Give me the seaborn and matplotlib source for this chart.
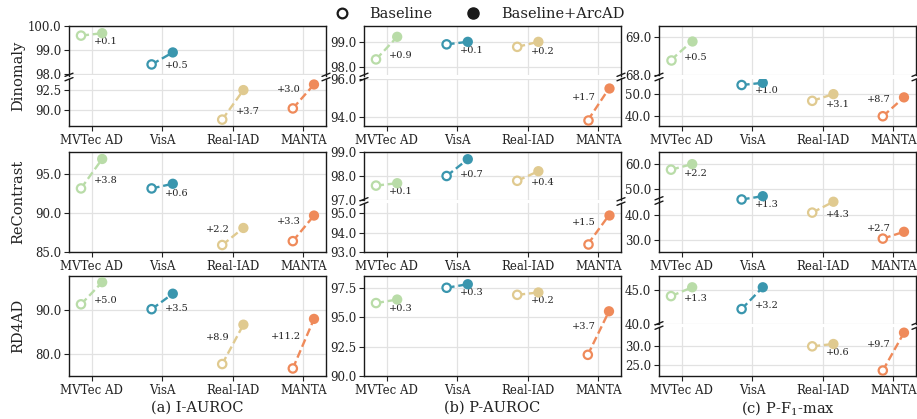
import matplotlib
matplotlib.use("Agg")
import matplotlib.pyplot as plt
import pandas as pd
import seaborn as sns
from matplotlib.lines import Line2D
from matplotlib.ticker import FormatStrFormatter

# ==================== DATA ====================
DATASETS = ["MVTec AD", "VisA", "Real-IAD", "MANTA"]
COLORS = ["#b9dca8", "#3a96ae", "#e0ca90", "#ef8a5a"]
METHODS = ["Dinomaly", "ReContrast", "RD4AD"]
METRICS = ["(a) I-AUROC", "(b) P-AUROC", "(c) P-F$_1$-max"]

dinomaly_iauroc_base = [99.6, 98.4, 88.8, 90.2]
dinomaly_iauroc_arcad = [99.7, 98.9, 92.5, 93.2]
dinomaly_pauroc_base = [98.3, 98.9, 98.8, 93.8]
dinomaly_pauroc_arcad = [99.2, 99.0, 99.0, 95.5]
dinomaly_f1_base = [68.4, 54.1, 46.8, 39.7]
dinomaly_f1_arcad = [68.9, 55.1, 49.9, 48.4]

recontrast_iauroc_base = [93.2, 93.2, 85.9, 86.4]
recontrast_iauroc_arcad = [97.0, 93.8, 88.1, 89.7]
recontrast_pauroc_base = [97.6, 98.0, 97.8, 93.4]
recontrast_pauroc_arcad = [97.7, 98.7, 98.2, 94.9]
recontrast_f1_base = [57.8, 46.0, 40.8, 30.5]
recontrast_f1_arcad = [60.0, 47.3, 45.1, 33.2]

rd4ad_iauroc_base = [91.3, 90.2, 77.8, 76.8]
rd4ad_iauroc_arcad = [96.3, 93.7, 86.7, 88.0]
rd4ad_pauroc_base = [96.2, 97.5, 96.9, 91.8]
rd4ad_pauroc_arcad = [96.5, 97.8, 97.1, 95.5]
rd4ad_f1_base = [44.1, 42.2, 29.8, 23.6]
rd4ad_f1_arcad = [45.4, 45.4, 30.4, 33.3]

# ==================== PANEL SETUP ====================
# segments: list of (ylim, yticks); two segments = broken axis (upper, lower)
# side: where the gain label goes ("r" right/below, "l" left/above)
PANELS = [
    [dict(base=dinomaly_iauroc_base, arcad=dinomaly_iauroc_arcad, side="rrrl",
          segs=[((97.94, 100.0), [98, 99, 100]), ((88.0, 93.95), [90, 92.5])], split=(49.5, 3)),
     dict(base=dinomaly_pauroc_base, arcad=dinomaly_pauroc_arcad, side="rrrl",
          segs=[((97.66, 99.63), [98, 99]), ((93.5, 96.03), [94, 96])], split=(49.5, 3)),
     dict(base=dinomaly_f1_base, arcad=dinomaly_f1_arcad, side="rrrl",
          segs=[((67.99, 69.30), [68, 69]), ((35.2, 57.1), [40, 50])], split=(49.5, 3))],
    [dict(base=recontrast_iauroc_base, arcad=recontrast_iauroc_arcad, side="rrll",
          segs=[((85.0, 97.9), [85, 90, 95])]),
     dict(base=recontrast_pauroc_base, arcad=recontrast_pauroc_arcad, side="rrrl",
          segs=[((97.0, 99.0), [97, 98, 99]), ((93.0, 95.53), [93, 94, 95])], split=(48, 3)),
     dict(base=recontrast_f1_base, arcad=recontrast_f1_arcad, side="rrrl",
          segs=[((25.2, 64.8), [30, 40, 50, 60])], mark=0.515)],
    [dict(base=rd4ad_iauroc_base, arcad=rd4ad_iauroc_arcad, side="rrll",
          segs=[((75.1, 97.7), [80, 90])]),
     dict(base=rd4ad_pauroc_base, arcad=rd4ad_pauroc_arcad, side="rrrl",
          segs=[((90.0, 98.5), [90, 92.5, 95, 97.5])]),
     dict(base=rd4ad_f1_base, arcad=rd4ad_f1_arcad, side="rrrl",
          segs=[((40.0, 47.06), [40, 45]), ((22.2, 34.75), [25, 30])], split=(48, 3))],
]

W, H = 917, 419
COL_LEFT = [69, 364, 659]
COL_W = 257
ROW_TOP = [26, 152, 276]
ROW_H = 100
OFF = 0.15

sns.set_theme(style="ticks")
plt.rcParams["font.family"] = ["DejaVu Serif"]
plt.rcParams["mathtext.fontset"] = "dejavuserif"
PAL = dict(zip(DATASETS, COLORS))


def px_axes(fig, left, top, width, height):
    return fig.add_axes([left / W, 1 - (top + height) / H, width / W, height / H])


def break_mark(fig, x, y):
    for dy in (-2.2, 2.2):
        fig.add_artist(Line2D([(x - 4) / W, (x + 4) / W],
                              [1 - (y + dy + 1.6) / H, 1 - (y + dy - 1.6) / H],
                              color="k", lw=1.0, transform=fig.transFigure))


def style_axes(ax, ylim, yticks):
    ax.set_xlim(-0.32, 3.32)
    ax.set_ylim(*ylim)
    ax.set_yticks(yticks)
    ax.yaxis.set_major_formatter(FormatStrFormatter("%.1f"))
    ax.set_xticks(range(len(DATASETS)))
    ax.set_xticklabels(DATASETS)
    ax.grid(True, color="#e2e2e2", lw=0.9)
    ax.set_axisbelow(True)
    ax.tick_params(labelsize=8.5, length=3.5, width=0.8, pad=2, colors="#222222")
    for s in ax.spines.values():
        s.set_linewidth(1.0)
        s.set_color("k")


def draw_panel(ax, cfg, idx):
    # draw only the dataset pairs listed in idx on this axes
    rows = []
    for i in idx:
        rows.append({"dataset": DATASETS[i], "x": i - OFF, "value": cfg["base"][i]})
        rows.append({"dataset": DATASETS[i], "x": i + OFF, "value": cfg["arcad"][i]})
    if rows:
        df = pd.DataFrame(rows)
        sns.lineplot(data=df, x="x", y="value", hue="dataset", palette=PAL, ax=ax,
                     legend=False, lw=1.7, linestyle=(0, (3.4, 1.6)), zorder=2)
        arc = df.iloc[1::2]
        sns.scatterplot(data=arc, x="x", y="value", hue="dataset", palette=PAL, ax=ax,
                        legend=False, s=55, linewidth=0, zorder=4)
        base = df.iloc[0::2]
        ax.scatter(base["x"], base["value"], s=36, facecolors="white",
                   edgecolors=[PAL[d] for d in base["dataset"]], linewidths=1.6, zorder=4)
    for i in idx:
        b, a = cfg["base"][i], cfg["arcad"][i]
        txt = f"+{a - b:.1f}"
        mid = (a + b) / 2
        if cfg["side"][i] == "r":
            ax.annotate(txt, xy=(i, mid), xytext=(2, -5), textcoords="offset points",
                        ha="left", va="center", fontsize=7, color="#222222")
        else:
            ax.annotate(txt, xy=(i, mid), xytext=(-2, 5), textcoords="offset points",
                        ha="right", va="center", fontsize=7, color="#222222")
    ax.set_xlabel("")
    ax.set_ylabel("")


fig = plt.figure(figsize=(W / 100, H / 100), dpi=100)

for r, row in enumerate(PANELS):
    for c, cfg in enumerate(row):
        left, top = COL_LEFT[c], ROW_TOP[r]
        segs = cfg["segs"]
        if len(segs) == 1:
            ax = px_axes(fig, left, top, COL_W, ROW_H)
            style_axes(ax, *segs[0])
            draw_panel(ax, cfg, range(len(DATASETS)))
            ax.set_xlim(-0.32, 3.32)
            ax.set_ylim(*segs[0][0])
            if "mark" in cfg:
                break_mark(fig, left, top + ROW_H * (1 - cfg["mark"]))
        else:
            up_h, gap = cfg["split"]
            ax_up = px_axes(fig, left, top, COL_W, up_h)
            ax_lo = px_axes(fig, left, top + up_h + gap, COL_W, ROW_H - up_h - gap)
            style_axes(ax_up, *segs[0])
            style_axes(ax_lo, *segs[1])
            ax_up.spines["bottom"].set_visible(False)
            ax_up.tick_params(axis="x", bottom=False, labelbottom=False)
            ax_lo.spines["top"].set_visible(False)
            lo_min, lo_max = segs[1][0]
            in_lo = [i for i in range(len(DATASETS)) if lo_min <= cfg["arcad"][i] <= lo_max]
            in_up = [i for i in range(len(DATASETS)) if i not in in_lo]
            draw_panel(ax_up, cfg, in_up)
            draw_panel(ax_lo, cfg, in_lo)
            for a_, s_ in ((ax_up, segs[0]), (ax_lo, segs[1])):
                a_.set_xlim(-0.32, 3.32)
                a_.set_ylim(*s_[0])
            yb = top + up_h + gap / 2
            break_mark(fig, left, yb)
            break_mark(fig, left + COL_W, yb)

# row labels
for r, name in enumerate(METHODS):
    fig.text(18 / W, 1 - (ROW_TOP[r] + ROW_H / 2) / H, name, rotation=90,
             ha="center", va="center", fontsize=10.5, color="#222222")

# column captions
for c, name in enumerate(METRICS):
    fig.text((COL_LEFT[c] + COL_W / 2) / W, 1 - 408 / H, name,
             ha="center", va="center", fontsize=10.5, color="#222222")

handles = [
    Line2D([], [], marker="o", ls="", mfc="white", mec="k", mew=1.6, ms=7),
    Line2D([], [], marker="o", ls="", color="k", ms=8),
]
fig.legend(handles, ["Baseline", "Baseline+ArcAD"], loc="center", ncol=2,
           bbox_to_anchor=(0.523, 1 - 14 / H), frameon=False, fontsize=10.5,
           handlelength=1.0, handletextpad=1.4, columnspacing=2.3,
           borderpad=0, labelcolor="#222222")

fig.savefig("out.png", dpi=100)
